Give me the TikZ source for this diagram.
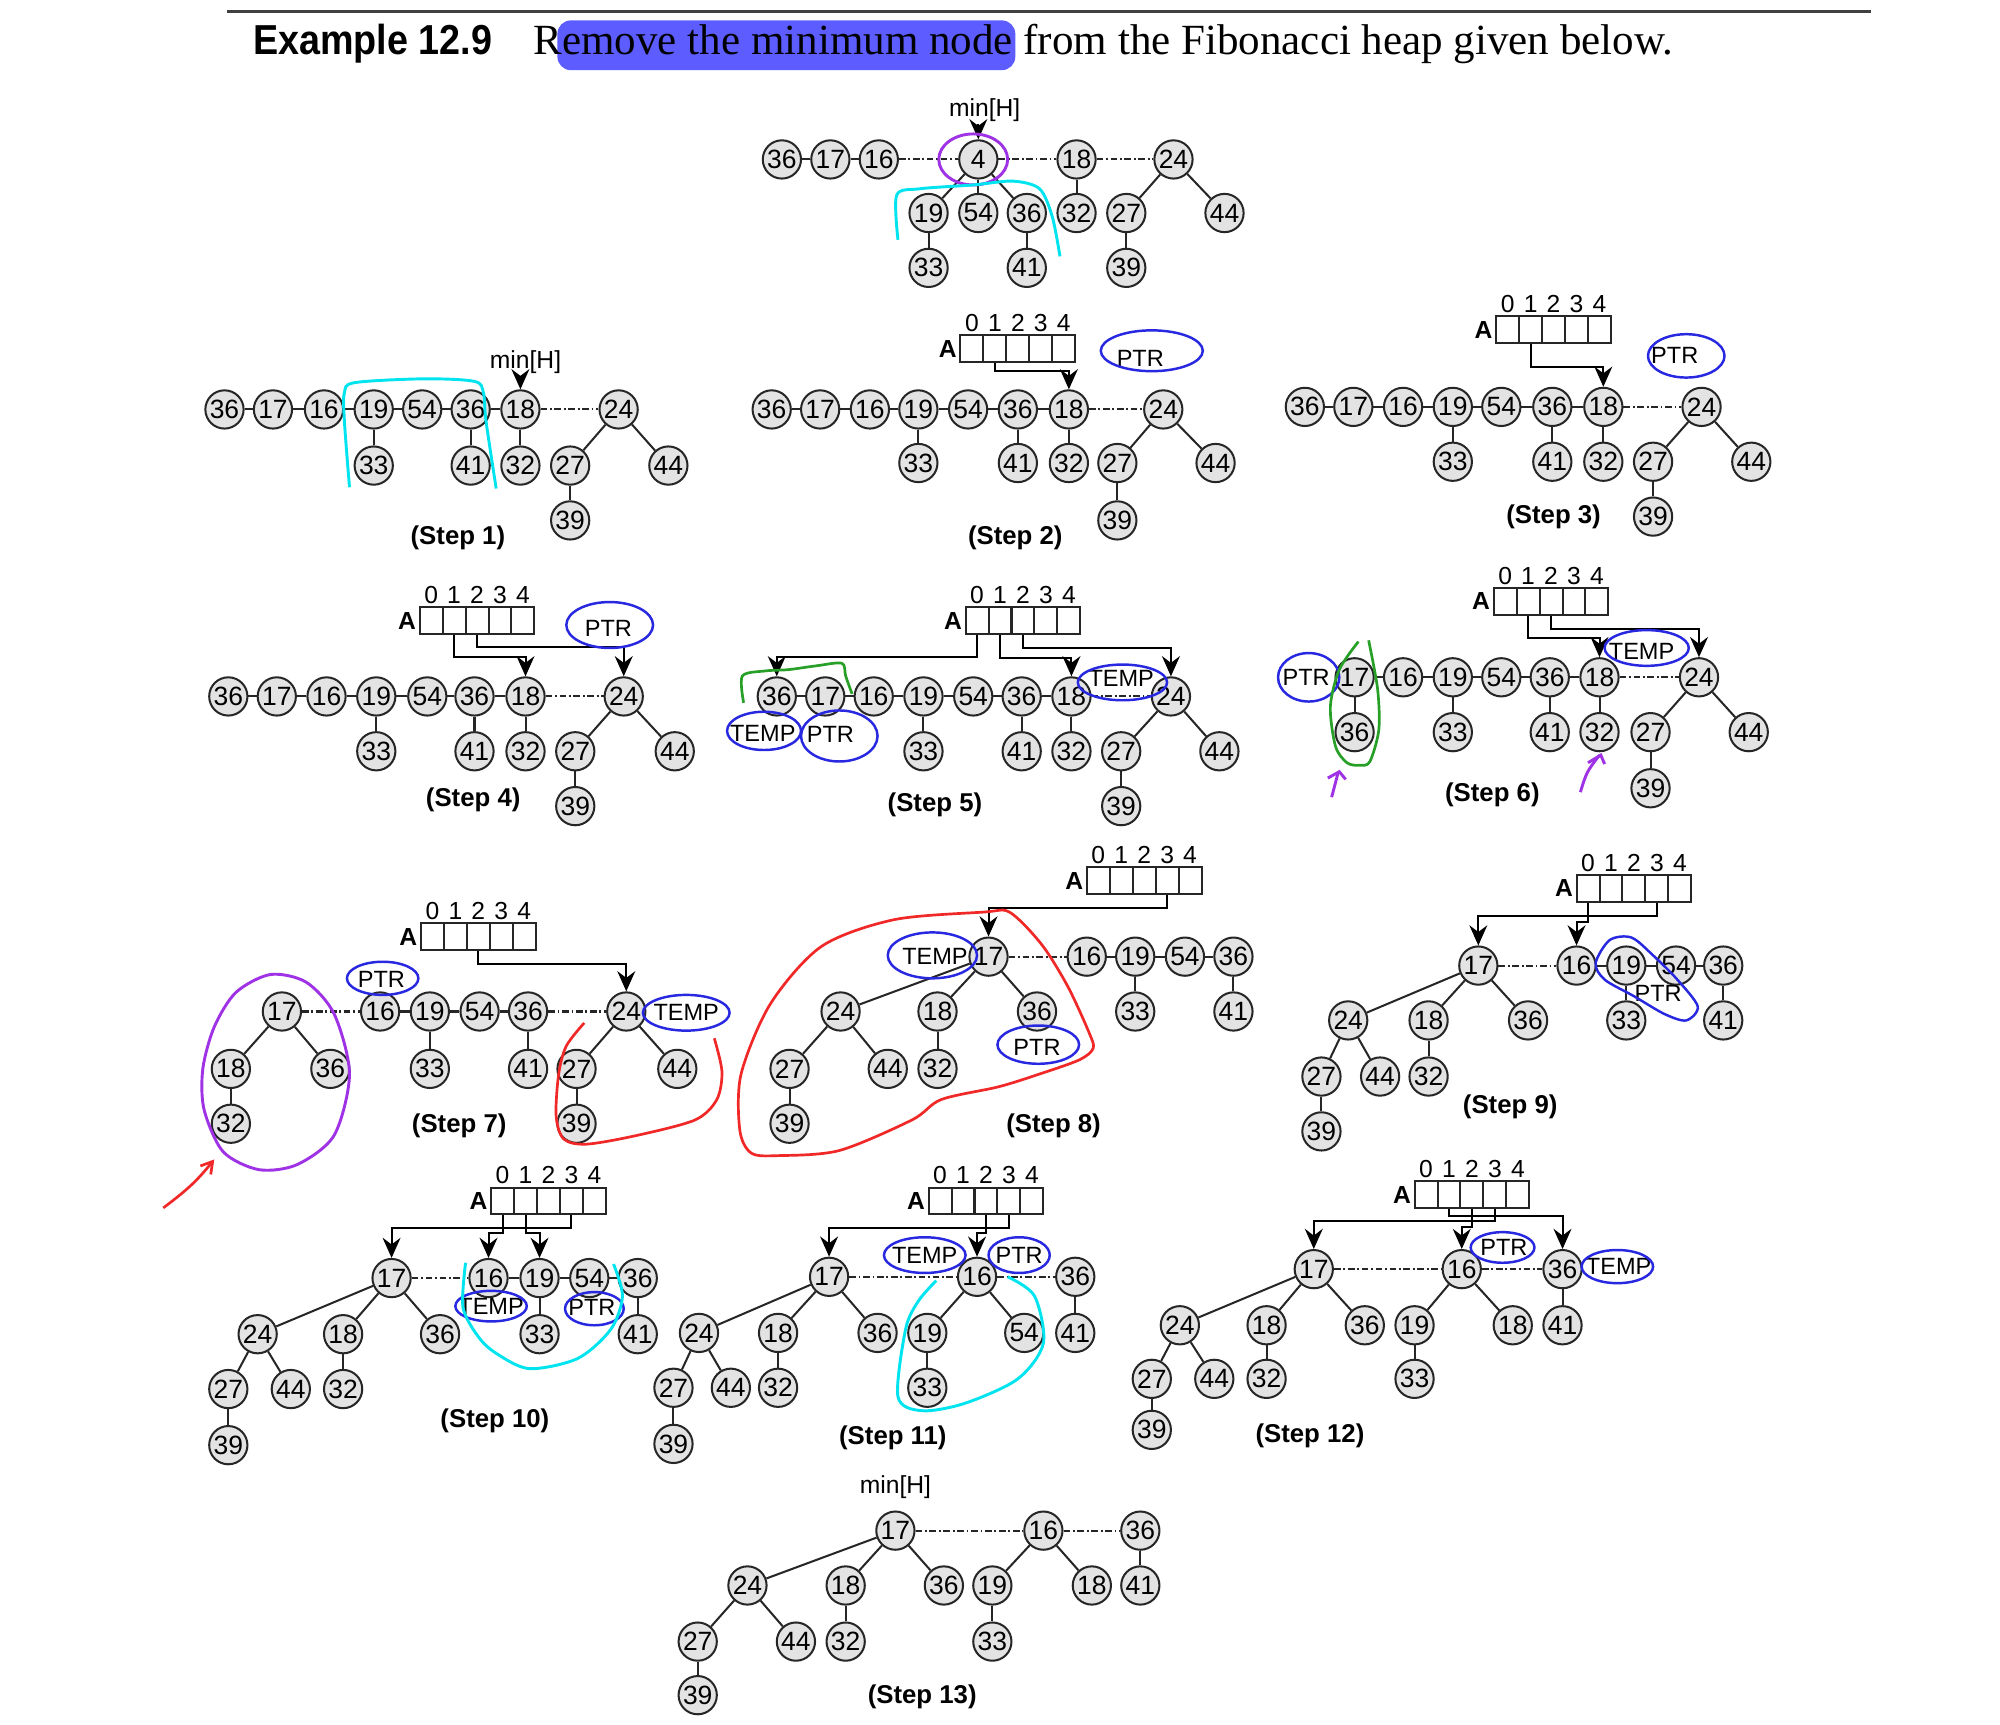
\documentclass[tikz,border=0pt]{standalone}
\usepackage{fontspec}
\setmainfont{Liberation Sans}
\newfontfamily\serifhead{Liberation Serif}
\usepackage{graphicx}
\usetikzlibrary{positioning,arrows.meta}
\definecolor{hilite}{RGB}{92,92,255}
\definecolor{penblue}{RGB}{40,40,225}
\definecolor{pencyan}{RGB}{0,228,240}
\definecolor{penpurple}{RGB}{160,50,230}
\definecolor{pengreen}{RGB}{40,160,40}
\definecolor{penred}{RGB}{240,40,40}

\begin{document}
\begin{tikzpicture}[
    x=0.02cm, y=-0.02cm,
    nd/.style ={
        circle,
        draw=black!85,
        fill=gray!22,
        line width=0.9pt,
        minimum size=0.6cm,
        inner sep=0pt,
        font=\fontsize{11.8}{13}\selectfont
    },
    tedge/.style ={line width=0.9pt, draw=black!85},
    link/.style ={line width=0.9pt, draw=black!85},
    dlink/.style ={
        line width=0.9pt,
        draw=black!85,
        dash pattern=on 3pt off 1.2pt on 0.8pt off 1.2pt
    },
    ptr/.style ={
        draw=black,
        line width=0.9pt,
        -{Stealth[length=9pt,width=8pt,inset=3pt]}
    },
    acell/.style ={
        draw=black!85,
        line width=0.9pt,
        minimum width=0.36cm,
        minimum height=0.42cm,
        inner sep=0pt
    },
    idx/.style ={font=\fontsize{11}{13}\selectfont, inner sep=1pt},
    arrname/.style ={font=\bfseries\fontsize{11}{13}\selectfont, inner sep=1pt},
    minlbl/.style ={font=\fontsize{11}{13}\selectfont, inner sep=1pt},
    steplbl/.style ={font=\bfseries\fontsize{11.5}{13}\selectfont},
    note/.style ={font=\fontsize{10.5}{12}\selectfont, inner sep=1pt},
    bluepen/.style ={draw=penblue, line width=1.1pt},
    cyanpen/.style ={draw=pencyan, line width=1.3pt},
    purplepen/.style ={draw=penpurple, line width=1.3pt},
    greenpen/.style ={draw=pengreen, line width=1.2pt},
    redpen/.style ={draw=penred, line width=1.2pt}
    ]

    \fill[white] (0,0) rectangle (1568,1352);
    \path[use as bounding box] (0,0) rectangle (1568,1352);

    % heading
    \draw[line width=1.4pt, black!75] (178,9) -- (1467,9);
    \fill[hilite, rounded corners=6] (437,16) rectangle (796,55);
    \node[anchor=base west, inner sep=0pt, font=\bfseries\fontsize{18.7}{22}\selectfont] (exlbl) at (198,43) {\scalebox{0.9}[1]{Example 12.9}};
    \node[anchor=base west, inner sep=0pt, font=\serifhead\fontsize{19.2}{23}\selectfont] (task) at (418,43) {Remove the minimum node from the Fibonacci heap given below.};

    % heaps
    \foreach \nm/\val/\x/\y in {t0n36/36/613/125, t0n17/17/651/125, t0n16/16/689/125, t0n4/4/767/125, t0n18/18/844/125, t0n24/24/920/125, t0n19/19/728/167, t0n54/54/767/167, t0n36b/36/805/167, t0n32/32/844/167, t0n27/27/883/167, t0n44/44/960/167, t0n33/33/728/210, t0n41/41/805/210, t0n39/39/883/210}
        \node[nd] (\nm) at (\x,\y) {\val};

    \foreach \nm/\val/\x/\y in {t1n36/36/176/321, t1n17/17/214/321, t1n16/16/254/321, t1n19/19/293/321, t1n54/54/331/321, t1n36b/36/369/321, t1n18/18/408/321, t1n24/24/485/321, t1n33/33/293/365, t1n41/41/369/365, t1n32/32/408/365, t1n27/27/447/365, t1n44/44/524/365, t1n39/39/447/408}
        \node[nd] (\nm) at (\x,\y) {\val};

    \foreach \nm/\val/\x/\y in {t2n36/36/605/321, t2n17/17/643/321, t2n16/16/682/321, t2n19/19/720/321, t2n54/54/759/321, t2n36b/36/798/321, t2n18/18/838/321, t2n24/24/912/321, t2n33/33/720/363, t2n41/41/798/363, t2n32/32/838/363, t2n27/27/876/363, t2n44/44/953/363, t2n39/39/876/408}
        \node[nd] (\nm) at (\x,\y) {\val};

    \foreach \nm/\val/\x/\y in {t3n36/36/1023/319, t3n17/17/1061/319, t3n16/16/1100/319, t3n19/19/1139/319, t3n54/54/1177/319, t3n36b/36/1217/319, t3n18/18/1257/319, t3n24/24/1334/319, t3n33/33/1139/362, t3n41/41/1217/362, t3n32/32/1257/362, t3n27/27/1296/362, t3n44/44/1373/362, t3n39/39/1296/405}
        \node[nd] (\nm) at (\x,\y) {\val};

    \foreach \nm/\val/\x/\y in {t4n36/36/179/546, t4n17/17/217/546, t4n16/16/256/546, t4n19/19/295/546, t4n54/54/335/546, t4n36b/36/372/546, t4n18/18/412/546, t4n24/24/489/546, t4n33/33/295/589, t4n41/41/372/589, t4n32/32/412/589, t4n27/27/451/589, t4n44/44/529/589, t4n39/39/451/632}
        \node[nd] (\nm) at (\x,\y) {\val};

    \foreach \nm/\val/\x/\y in {t5n36/36/609/546, t5n17/17/647/546, t5n16/16/685/546, t5n19/19/724/546, t5n54/54/763/546, t5n36b/36/801/546, t5n18/18/840/546, t5n24/24/918/546, t5n33/33/724/589, t5n41/41/801/589, t5n32/32/840/589, t5n27/27/879/589, t5n44/44/956/589, t5n39/39/879/632}
        \node[nd] (\nm) at (\x,\y) {\val};

    \foreach \nm/\val/\x/\y in {t6n17/17/1062/531, t6n16/16/1100/531, t6n19/19/1139/531, t6n54/54/1177/531, t6n36b/36/1215/531, t6n18/18/1254/531, t6n24/24/1332/531, t6n36/36/1062/574, t6n33/33/1139/574, t6n41/41/1215/574, t6n32/32/1254/574, t6n27/27/1294/574, t6n44/44/1371/574, t6n39/39/1294/618}
        \node[nd] (\nm) at (\x,\y) {\val};

    \foreach \nm/\val/\x/\y in {t7n17/17/221/793, t7n16/16/298/793, t7n19/19/337/793, t7n54/54/376/793, t7n36b/36/414/793, t7n24/24/491/793, t7n18/18/181/838, t7n36/36/259/838, t7n33/33/337/838, t7n41/41/414/838, t7n27/27/452/838, t7n44/44/531/838, t7n32/32/181/881, t7n39/39/452/881}
        \node[nd] (\nm) at (\x,\y) {\val};

    \foreach \nm/\val/\x/\y in {t8n17/17/775/750, t8n16/16/852/750, t8n19/19/890/750, t8n54/54/929/750, t8n36b/36/967/750, t8n24/24/659/793, t8n18/18/735/793, t8n36/36/813/793, t8n33/33/890/793, t8n41/41/967/793, t8n27/27/619/838, t8n44/44/696/838, t8n32/32/735/838, t8n39/39/619/881}
        \node[nd] (\nm) at (\x,\y) {\val};

    \foreach \nm/\val/\x/\y in {t9n17/17/1159/757, t9n16/16/1236/757, t9n19/19/1275/757, t9n54/54/1314/757, t9n36b/36/1351/757, t9n24/24/1057/800, t9n18/18/1120/800, t9n36/36/1198/800, t9n33/33/1275/800, t9n41/41/1351/800, t9n27/27/1036/844, t9n44/44/1082/844, t9n32/32/1120/844, t9n39/39/1036/887}
        \node[nd] (\nm) at (\x,\y) {\val};

    \foreach \nm/\val/\x/\y in {t10n17/17/307/1002, t10n16/16/383/1002, t10n19/19/423/1002, t10n54/54/462/1002, t10n36b/36/500/1002, t10n24/24/202/1046, t10n18/18/269/1046, t10n36/36/345/1046, t10n33/33/423/1046, t10n41/41/500/1046, t10n27/27/179/1089, t10n44/44/228/1089, t10n32/32/269/1089, t10n39/39/179/1133}
        \node[nd] (\nm) at (\x,\y) {\val};

    \foreach \nm/\val/\x/\y in {t11n17/17/650/1001, t11n16/16/766/1001, t11n36b/36/843/1001, t11n24/24/548/1045, t11n18/18/610/1045, t11n36/36/688/1045, t11n19/19/727/1045, t11n54/54/803/1045, t11n41/41/843/1045, t11n27/27/528/1088, t11n44/44/573/1088, t11n32/32/610/1088, t11n33/33/727/1088, t11n39/39/528/1132}
        \node[nd] (\nm) at (\x,\y) {\val};

    \foreach \nm/\val/\x/\y in {t12n17/17/1030/995, t12n16/16/1146/995, t12n36b/36/1225/995, t12n24/24/925/1039, t12n18/18/993/1039, t12n36/36/1070/1039, t12n19/19/1109/1039, t12n18b/18/1186/1039, t12n41/41/1225/1039, t12n27/27/903/1081, t12n44/44/952/1081, t12n32/32/993/1081, t12n33/33/1109/1081, t12n39/39/903/1121}
        \node[nd] (\nm) at (\x,\y) {\val};

    \foreach \nm/\val/\x/\y in {t13n17/17/702/1200, t13n16/16/818/1200, t13n36b/36/894/1200, t13n24/24/586/1243, t13n18/18/663/1243, t13n36/36/740/1243, t13n19/19/778/1243, t13n18b/18/856/1243, t13n41/41/894/1243, t13n27/27/547/1287, t13n44/44/624/1287, t13n32/32/663/1287, t13n33/33/778/1287, t13n39/39/547/1329}
        \node[nd] (\nm) at (\x,\y) {\val};

    % tree edges and root lists
    \foreach \src/\dst in {4/19, 4/54, 4/36b, 18/32, 24/27, 24/44, 19/33, 36b/41, 27/39}
        \draw[tedge] (t0n\src) -- (t0n\dst);
    \foreach \src/\dst in {36/17, 17/16}
        \draw[link] (t0n\src) -- (t0n\dst);
    \foreach \src/\dst in {16/4, 4/18, 18/24}
        \draw[dlink] (t0n\src) -- (t0n\dst);

    \foreach \s in {1,...,5} {
        \foreach \src/\dst in {19/33, 36b/41, 18/32, 24/27, 24/44, 27/39}
            \draw[tedge] (t\s n\src) -- (t\s n\dst);
        \foreach \src/\dst in {36/17, 17/16, 16/19, 19/54, 54/36b, 36b/18}
            \draw[link] (t\s n\src) -- (t\s n\dst);
        \draw[dlink] (t\s n18) -- (t\s n24);
    }

    \foreach \src/\dst in {17/36, 19/33, 36b/41, 18/32, 24/27, 24/44, 27/39}
        \draw[tedge] (t6n\src) -- (t6n\dst);
    \foreach \src/\dst in {17/16, 16/19, 19/54, 54/36b, 36b/18}
        \draw[link] (t6n\src) -- (t6n\dst);
    \draw[dlink] (t6n18) -- (t6n24);

    \foreach \src/\dst in {17/18, 17/36, 18/32, 19/33, 36b/41, 24/27, 24/44, 27/39}
        \draw[tedge] (t7n\src) -- (t7n\dst);
    \foreach \src/\dst in {16/19, 19/54, 54/36b}
        \draw[link] (t7n\src) -- (t7n\dst);
    \foreach \src/\dst in {17/16, 36b/24}
        \draw[dlink] (t7n\src) -- (t7n\dst);

    \foreach \s in {8,9,10} {
        \foreach \src/\dst in {17/24, 17/18, 17/36, 24/27, 24/44, 18/32, 27/39, 19/33, 36b/41}
            \draw[tedge] (t\s n\src) -- (t\s n\dst);
        \foreach \src/\dst in {16/19, 19/54, 54/36b}
            \draw[link] (t\s n\src) -- (t\s n\dst);
        \draw[dlink] (t\s n17) -- (t\s n16);
    }

    \foreach \src/\dst in {17/24, 17/18, 17/36, 16/19, 16/54, 36b/41, 24/27, 24/44, 18/32, 19/33, 27/39}
        \draw[tedge] (t11n\src) -- (t11n\dst);
    \foreach \src/\dst in {17/16, 16/36b}
        \draw[dlink] (t11n\src) -- (t11n\dst);

    \foreach \s in {12,13} {
        \foreach \src/\dst in {17/24, 17/18, 17/36, 16/19, 16/18b, 36b/41, 24/27, 24/44, 18/32, 19/33, 27/39}
            \draw[tedge] (t\s n\src) -- (t\s n\dst);
        \foreach \src/\dst in {17/16, 16/36b}
            \draw[dlink] (t\s n\src) -- (t\s n\dst);
    }

    % min pointers
    \node[minlbl] (minH0) at (772,86) {min[H]};
    \draw[ptr] (minH0.south -| t0n4) -- (t0n4.north);
    \node[minlbl] (minH1) at (412,284) {min[H]};
    \draw[ptr] (minH1.south -| t1n18) -- (t1n18.north);
    \node[minlbl] (minH13) at (702,1166) {min[H]};

    % arrays A
    \foreach \s/\ax/\ay in {2/753/263, 3/1173/248, 4/329/476, 5/757/476, 6/1171/461, 7/330/724, 8/852/680, 9/1236/686, 10/385/931, 11/728/931, 12/1109/926} {
        \foreach \k in {0,...,4} {
            \node[acell] (A\s c\k) at (\ax+9+18*\k, \ay+10.5) {};
            \node[idx] (A\s i\k) [above=0pt of A\s c\k] {\k};
        }
        \node[arrname] (A\s) [left=0pt of A\s c0] {A};
    }

    \foreach \s/\k/\h/\dst in {2/1/291/t2n18, 3/1/288/t3n18, 4/1/515/t4n18, 4/2/507/t4n24, 5/0/515/t5n36, 5/1/516/t5n18, 5/2/508/t5n24, 6/1/500/t6n18, 6/2/493/t6n24, 7/2/756/t7n24, 8/3/712/t8n17, 9/3/718/t9n17, 9/0/723/t9n16, 10/3/963/t10n17, 10/0/967/t10n16, 10/1/967/t10n19, 11/3/963/t11n17, 11/2/967/t11n16, 12/3/957/t12n17, 12/2/962/t12n16, 12/1/953/t12n36b}
        \draw[ptr] (A\s c\k.south) -- (A\s c\k.south |- 0,\h) -| (\dst.north);

    % step captions
    \foreach \nm/\txt/\x/\y in {step1/1/359/422, step2/2/796/422, step3/3/1218/405, step4/4/371/627, step5/5/733/631, step6/6/1170/623, step7/7/360/883, step8/8/826/883, step9/9/1184/868, step10/10/388/1114, step11/11/700/1127, step12/12/1027/1126, step13/13/723/1330}
        \node[steplbl] (\nm) at (\x,\y) {(Step \txt)};

    % PTR and TEMP marks
    \foreach \nm/\txt/\x/\y in {ptr2/PTR/894/281, ptr3/PTR/1313/279, ptr4/PTR/477/493, temp5a/TEMP/598/575, ptr5/PTR/651/576, temp5b/TEMP/879/532, ptr6/PTR/1024/531, temp6/TEMP/1287/511, ptr7/PTR/299/768, temp7/TEMP/538/794, temp8/TEMP/733/750, ptr8/PTR/813/821, ptr9/PTR/1300/779, temp10/TEMP/385/1024, ptr10/PTR/464/1025, temp11/TEMP/725/984, ptr11/PTR/799/984, ptr12/PTR/1179/978, temp12/TEMP/1269/993}
        \node[note] (\nm) at (\x,\y) {\txt};

    % hand marks
    \foreach \cx/\cy/\rx/\ry in {903/275/40/16, 1322/279/30/17, 478/490/34/18, 599/573/29/15, 658/577/30/20, 880/535/35/14, 1026/531/24/19, 1291/508/33/14, 300/767/28/13, 538/794/34/14, 731/749/35/18, 814/819/32/15, 385/1024/28/12, 466/1026/23/13, 725/984/32/14, 799/984/24/14, 1178/978/25/12, 1268/993/28/13}
        \draw[bluepen] (\cx,\cy) ellipse [x radius=\rx, y radius=\ry];
    \draw[bluepen] plot[smooth cycle] coordinates {(1251,755) (1262,737) (1279,735) (1296,749) (1315,768) (1331,789) (1322,800) (1305,795) (1281,781) (1258,768)};

    \draw[purplepen] (763,125) ellipse [x radius=27, y radius=20];
    \draw[cyanpen] plot[smooth] coordinates {(704,188) (703,153) (721,148) (763,145) (794,142) (815,148) (825,170) (831,201)};
    \draw[cyanpen] plot[smooth] coordinates {(274,382) (270,330) (270,308) (278,300) (332,297) (372,299) (379,308) (381,330) (389,383)};
    \draw[greenpen] plot[smooth] coordinates {(583,551) (582,530) (600,526) (618,525) (640,522) (660,520) (663,530) (668,544)};
    \draw[greenpen] plot[smooth] coordinates {(1065,503) (1050,525) (1043,554) (1047,585) (1056,598) (1066,600) (1074,597) (1081,572) (1080,540) (1073,502)};
    \draw[purplepen] (1044,625) .. controls (1046,615) .. (1049,606);
    \draw[purplepen] (1041,610) -- (1050,605) -- (1055,611);
    \draw[purplepen] (1239,621) .. controls (1244,605) .. (1254,592);
    \draw[purplepen] (1245,598) -- (1255,592) -- (1258,599);
    \draw[purplepen] plot[smooth cycle] coordinates {(212,764) (240,770) (262,795) (274,842) (262,890) (233,913) (203,917) (175,903) (160,870) (159,838) (168,805) (185,778)};
    \draw[redpen, -{Straight Barb[length=5pt,width=6pt]}] (128,947) .. controls (148,932) and (155,925) .. (168,909);
    \draw[redpen] plot[smooth] coordinates {(458,802) (444,820) (438,842) (436,875) (442,893) (460,897) (500,890) (545,878) (562,862) (566,840) (560,814)};
    \draw[redpen] plot[smooth cycle] coordinates {(772,715) (789,714) (803,725) (820,745) (838,775) (854,810) (857,822) (846,831) (815,842) (783,852) (738,862) (715,878) (658,902) (610,906) (589,904) (580,886) (581,842) (604,787) (644,742) (701,721)};
    \draw[cyanpen] plot[smooth] coordinates {(365,990) (363,1025) (375,1048) (389,1061) (415,1073) (453,1065) (479,1042) (488,1016) (481,991)};
    \draw[cyanpen] plot[smooth] coordinates {(734,1004) (720,1020) (710,1042) (704,1095) (723,1106) (757,1100) (798,1081) (818,1053) (811,1016) (790,1001)};
\end{tikzpicture}
\end{document}
